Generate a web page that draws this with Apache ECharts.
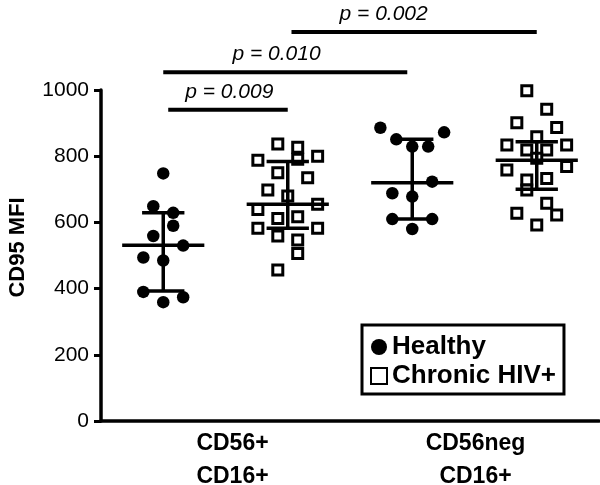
<!DOCTYPE html>
<html>
<head>
<meta charset="utf-8">
<script src="https://cdn.jsdelivr.net/npm/echarts@6/dist/echarts.min.js"></script>
<style>html,body{margin:0;padding:0;background:#fff;}#c{width:600px;height:485px;}</style>
</head>
<body>
<div id="c"></div>
<script>
// ---- data ----
const subsetLabels = ['CD56+\nCD16+', 'CD56neg\nCD16+'];
const yTicks = [0, 200, 400, 600, 800, 1000];

// CD56+CD16+ Healthy (group 0)
const healthyCD56pos = [748, 649, 629, 590, 559, 530, 494, 485, 390, 374, 359];
const healthyCD56posCol = [0, -1, 1, 1, -1, 2, -2, 0, -2, 2, 0];
// CD56+CD16+ Chronic HIV+ (group 1)
const hivCD56pos = [837, 827, 788, 800, 791, 750, 735, 698, 680, 639, 655, 612, 617, 582, 582, 559, 547, 506, 456];
const hivCD56posCol = [-1, 1, -3, 3, 1, -1, 2, -2, 0, -3, 3, -1, 1, -3, 3, -1, 1, 1, -1];
// CD56negCD16+ Healthy (group 2)
const healthyCD56neg = [886, 872, 851, 829, 829, 723, 688, 678, 610, 610, 580];
const healthyCD56negCol = [-3.2, 3.2, -1.6, 0, 1.6, 2, -2, 0, -2, 2, 0];
// CD56negCD16+ Chronic HIV+ (group 3)
const hivCD56neg = [998, 942, 901, 887, 859, 834, 834, 819, 819, 794, 758, 769, 728, 733, 698, 658, 622, 628, 592];
const hivCD56negCol = [-1, 1, -2, 2, 0, -3, 3, -1, 1, 0, -3, 3, -1, 1, -1, 1, 2, -2, 0];

// median with interquartile range per group
const medians = [531, 655, 720, 788];
const q1s = [393, 582, 610, 700];
const q3s = [629, 784, 851, 844];

// significance comparisons
const sigFrom = [0.54, 0.5, 1.53];
const sigTo = [1.5, 2.46, 3.5];
const sigLevel = [940, 1054, 1175];
const sigTextX = [1.03, 1.41, 2.27];
const sigText = ['p = 0.009', 'p = 0.010', 'p = 0.002'];

// ---- build ----
const COL = 0.08;
function pts(vals, cols, g) {
  return vals.map((v, i) => [g + 0.5 + cols[i] * COL, v]);
}
const healthyData = pts(healthyCD56pos, healthyCD56posCol, 0).concat(pts(healthyCD56neg, healthyCD56negCol, 2));
const hivData = pts(hivCD56pos, hivCD56posCol, 1).concat(pts(hivCD56neg, hivCD56negCol, 3));
const iqrData = medians.map((m, i) => [i + 0.5, m, q1s[i], q3s[i]]);
const sigData = sigFrom.map((f, i) => [f, sigTo[i], sigLevel[i], sigTextX[i]]);

const FONT = 'Liberation Sans, Arial, Helvetica, sans-serif';
const chart = echarts.init(document.getElementById('c'), null, {renderer: 'canvas'});
chart.setOption({
  backgroundColor: '#fff',
  animation: false,
  grid: {left: 101, right: 1, top: 90, bottom: 64, containLabel: false, outerBoundsMode: 'none'},
  xAxis: [
    {type: 'value', min: 0, max: 4, show: false, position: 'bottom'},
    {type: 'category', data: ['a', 'b', 'c', 'd'], boundaryGap: true, position: 'bottom',
      axisLine: {lineStyle: {color: '#000', width: 3.5}},
      axisTick: {alignWithLabel: true, length: 8, lineStyle: {color: '#000', width: 3}},
      axisLabel: {show: false}, splitLine: {show: false}},
    {type: 'category', boundaryGap: true, position: 'bottom',
      data: [{value: subsetLabels[0], textStyle: {padding: [0, 0, 0, 14]}}, {value: subsetLabels[1], textStyle: {padding: [0, 0, 0, 2]}}],
      axisLine: {show: false}, axisTick: {show: false}, splitLine: {show: false},
      axisLabel: {color: '#000', fontFamily: FONT, fontWeight: 'bold', fontSize: 23, lineHeight: 33, margin: 6}}
  ],
  yAxis: {
    type: 'value', min: 0, max: 1000, interval: 200,
    name: 'CD95 MFI', nameLocation: 'middle', nameGap: 72, nameRotate: 90,
    nameTextStyle: {color: '#000', fontFamily: FONT, fontWeight: 'bold', fontSize: 22, padding: [0, 0, 0, 16]},
    axisLine: {show: true, lineStyle: {color: '#000', width: 3.5}},
    axisTick: {show: true, length: 7, lineStyle: {color: '#000', width: 3}},
    axisLabel: {color: '#000', fontFamily: FONT, fontSize: 21, margin: 12,
      formatter: v => yTicks.indexOf(v) >= 0 ? String(v) : ''},
    splitLine: {show: false}
  },
  legend: {
    orient: 'vertical', left: 362, top: 325,
    padding: [8, 8, 4, 8], itemGap: 1, itemWidth: 16, itemHeight: 16,
    borderColor: '#000', borderWidth: 3,
    textStyle: {color: '#000', fontFamily: FONT, fontWeight: 'bold', fontSize: 26, lineHeight: 28},
    data: [{name: 'Healthy', icon: 'circle'}, {name: 'Chronic HIV+', icon: 'rect'}]
  },
  series: [
    {name: 'Healthy', type: 'scatter', xAxisIndex: 0, symbol: 'circle', symbolSize: 12.5,
      itemStyle: {color: '#000', opacity: 1}, data: healthyData, z: 2},
    {name: 'Chronic HIV+', type: 'scatter', xAxisIndex: 0, symbol: 'rect', symbolSize: 10,
      itemStyle: {color: '#fff', borderColor: '#000', borderWidth: 3, opacity: 1}, data: hivData, z: 2},
    {type: 'custom', xAxisIndex: 0, z: 5, silent: true, data: iqrData,
      renderItem: function (params, api) {
        const x = api.value(0), m = api.value(1), lo = api.value(2), hi = api.value(3);
        const st = {stroke: '#000', lineWidth: 3.5, lineCap: 'butt'};
        const seg = (a, b) => ({type: 'line', shape: {x1: a[0], y1: a[1], x2: b[0], y2: b[1]}, style: st});
        return {type: 'group', children: [
          seg(api.coord([x - 0.33, m]), api.coord([x + 0.33, m])),
          seg(api.coord([x, lo]), api.coord([x, hi])),
          seg(api.coord([x - 0.17, lo]), api.coord([x + 0.17, lo])),
          seg(api.coord([x - 0.17, hi]), api.coord([x + 0.17, hi]))
        ]};
      }},
    {type: 'custom', xAxisIndex: 0, z: 5, silent: true, clip: false, data: sigData,
      renderItem: function (params, api) {
        const a = api.coord([api.value(0), api.value(2)]);
        const b = api.coord([api.value(1), api.value(2)]);
        const t = api.coord([api.value(3), api.value(2)]);
        return {type: 'group', children: [
          {type: 'line', shape: {x1: a[0], y1: a[1], x2: b[0], y2: b[1]}, style: {stroke: '#000', lineWidth: 4}},
          {type: 'text', x: t[0], y: t[1] - 7, style: {text: sigText[params.dataIndex], fill: '#000',
            font: 'italic 21px ' + FONT, textAlign: 'center', textVerticalAlign: 'bottom'}}
        ]};
      }}
  ]
});
</script>
</body>
</html>
